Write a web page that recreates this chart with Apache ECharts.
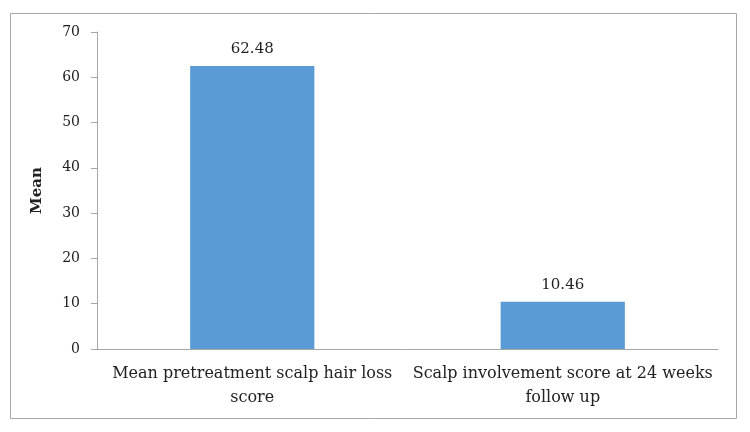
<!DOCTYPE html>
<html>
<head>
    <meta charset='utf-8' />
    <title>chart</title>
    <script src="https://cdn.jsdelivr.net/npm/echarts@6/dist/echarts.min.js"></script>
</head>
<body style='margin:0;width:750px;height:432px;background:#fff;'>
<div id='bar' style='width:750px;height:432px;'></div>
<script type='text/javascript'>
    // data
    var categories = ['Mean pretreatment scalp hair loss\nscore', 'Scalp involvement score at 24 weeks\nfollow up'];
    var means = [62.48, 10.46];

    var fontName = 'DejaVu Serif';
    var chartDom = document.getElementById('bar');
    var myChart = echarts.init(chartDom);

    var option = {
        backgroundColor: '#fff',
        animation: false,
        graphic: [{
            type: 'rect',
            shape: { x: 10.5, y: 13.5, width: 726, height: 405 },
            style: { fill: 'none', stroke: '#a6a6a6', lineWidth: 1 }
        }],
        grid: { left: 97, right: 32, top: 32, bottom: 83 },
        xAxis: {
            type: 'category',
            data: categories,
            axisLine: { lineStyle: { color: '#a6a6a6' } },
            axisTick: { show: false },
            axisLabel: { color: '#222', fontFamily: fontName, fontSize: 16, lineHeight: 24, margin: 13, interval: 0 }
        },
        yAxis: {
            type: 'value',
            min: 0,
            max: 70,
            interval: 10,
            name: 'Mean',
            nameLocation: 'middle',
            nameGap: 52,
            nameTextStyle: { fontFamily: fontName, fontWeight: 'bold', fontSize: 15, color: '#222' },
            splitLine: { show: false },
            axisLine: { show: true, lineStyle: { color: '#a6a6a6' } },
            axisTick: { show: true, length: 6, lineStyle: { color: '#a6a6a6' } },
            axisLabel: { color: '#222', fontFamily: fontName, fontSize: 14, margin: 17 }
        },
        series: [{
            type: 'bar',
            data: means,
            barWidth: '40%',
            itemStyle: { color: '#5b9bd5' },
            label: {
                show: true,
                position: 'top',
                distance: 9,
                color: '#222',
                fontFamily: fontName,
                fontSize: 15
            }
        }]
    };
    myChart.setOption(option);
</script>
</body>
</html>
